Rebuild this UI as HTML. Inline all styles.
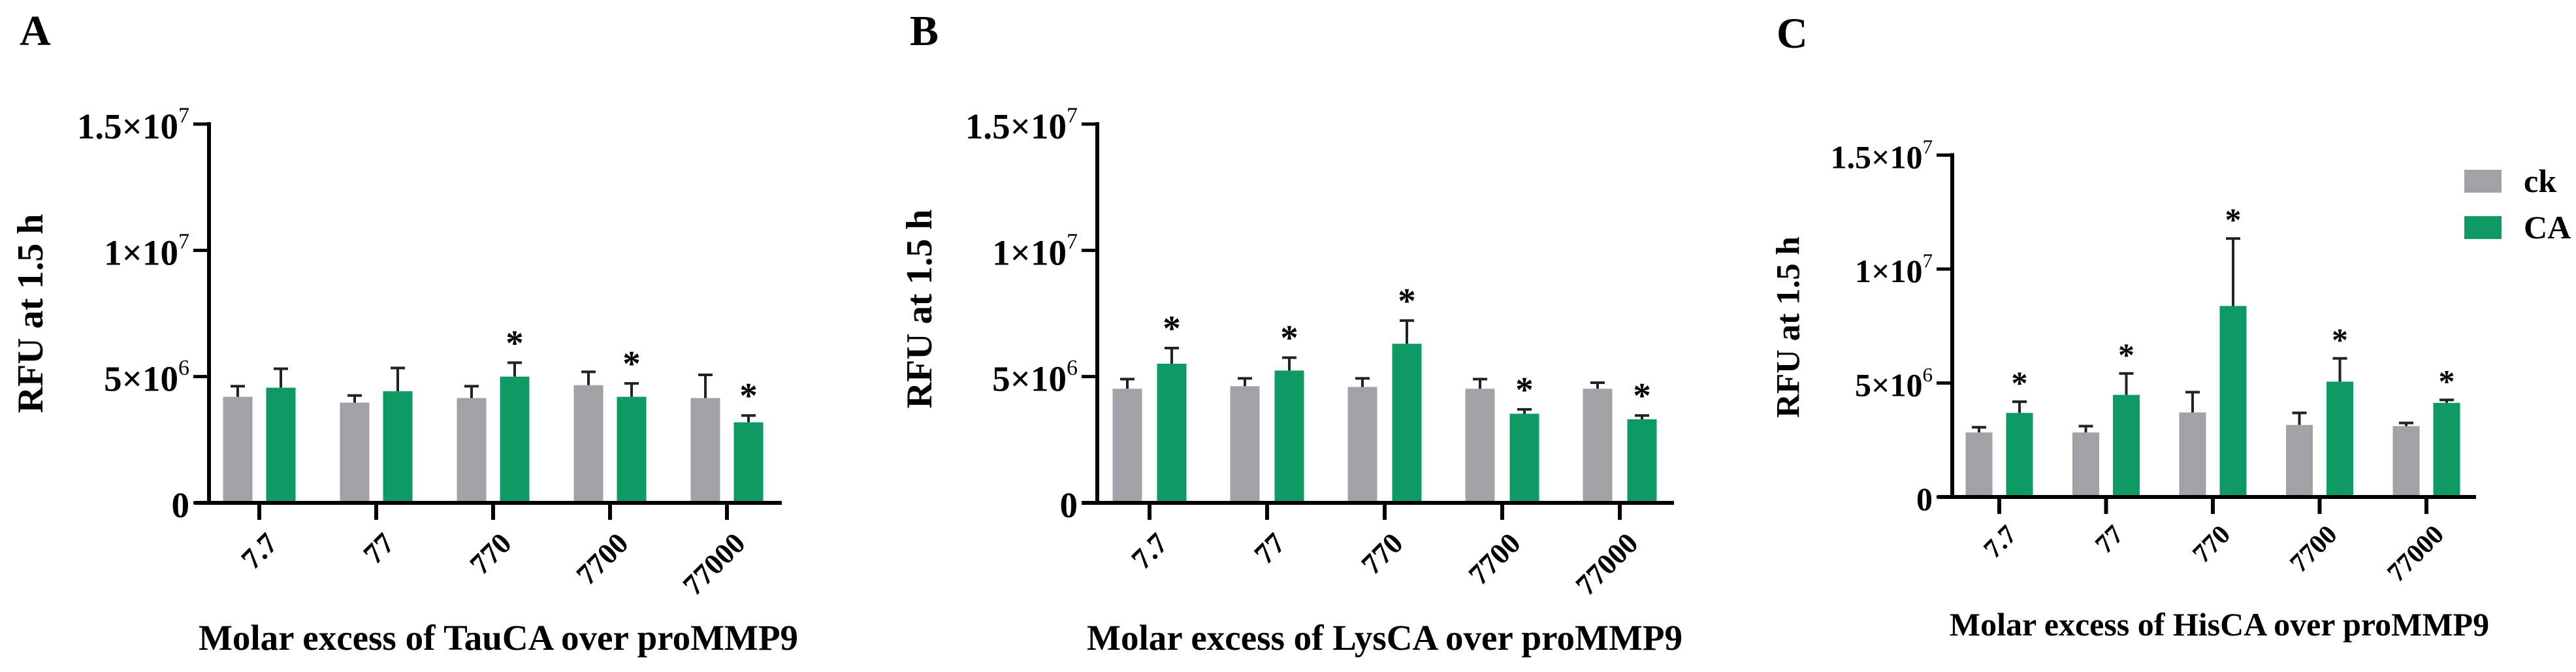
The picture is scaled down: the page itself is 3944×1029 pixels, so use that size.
<!DOCTYPE html>
<html><head><meta charset="utf-8"><style>
html,body{margin:0;padding:0;background:#fff;}
svg{display:block;font-family:"Liberation Serif",serif;}
svg text{font-family:"Liberation Serif",serif;}
</style></head><body>
<svg id="chart" width="3944" height="1029" viewBox="0 0 3944 1029" xmlns="http://www.w3.org/2000/svg" font-family="Liberation Serif, serif">
<rect width="3944" height="1029" fill="#fff"/>
<g id="layer"></g>
</svg>
<script>
const categories = ["7.7", "77", "770", "7700", "77000"];
const yTickValues = [0, 5e6, 1e7, 1.5e7];
const yTickMant = ["0", "5", "1", "1.5"];
const yTickExp = ["", "6", "7", "7"];
const seriesNames = ["ck", "CA"];
// Panel A (TauCA)
const aCk = [4.2e6, 3.97e6, 4.15e6, 4.66e6, 4.15e6];
const aCkErr = [0.42e6, 0.28e6, 0.47e6, 0.53e6, 0.92e6];
const aCa = [4.56e6, 4.42e6, 5.0e6, 4.2e6, 3.19e6];
const aCaErr = [0.75e6, 0.92e6, 0.55e6, 0.53e6, 0.27e6];
const aStar = [false, false, true, true, true];
// Panel B (LysCA)
const bCk = [4.52e6, 4.62e6, 4.59e6, 4.52e6, 4.52e6];
const bCkErr = [0.38e6, 0.31e6, 0.34e6, 0.38e6, 0.24e6];
const bCa = [5.51e6, 5.24e6, 6.3e6, 3.53e6, 3.31e6];
const bCaErr = [0.62e6, 0.51e6, 0.92e6, 0.17e6, 0.15e6];
const bStar = [true, true, true, true, true];
// Panel C (HisCA)
const cCk = [2.83e6, 2.83e6, 3.71e6, 3.16e6, 3.11e6];
const cCkErr = [0.23e6, 0.28e6, 0.89e6, 0.53e6, 0.14e6];
const cCa = [3.69e6, 4.48e6, 8.38e6, 5.06e6, 4.13e6];
const cCaErr = [0.49e6, 0.94e6, 2.96e6, 1.02e6, 0.13e6];
const cStar = [true, true, true, true, true];

const NS = "http://www.w3.org/2000/svg";
const layer = document.getElementById("layer");
const FF = "Liberation Serif, serif";
function mk(tag, attrs, parent) {
  const e = document.createElementNS(NS, tag);
  for (const k in attrs) e.setAttribute(k, attrs[k]);
  if (tag === "text") e.setAttribute("font-family", FF);
  (parent || layer).appendChild(e);
  return e;
}
const GREY = "#a2a1a6", GREEN = "#0e9a62";

const panels = [
  {id:"a", letter:"A", lx:30, ly:69, ax:320, y0:770, yTop:190, x0:298, x1:1197, t0:397, dt:179, bw:45, off:33,
   fs:55, sfs:34, title:"Molar excess of TauCA over proMMP9", tx:763, ty:995, ytx:52, yty:480, yfs:56, ck:aCk, ckE:aCkErr, ca:aCa, caE:aCaErr, st:aStar, lab:812},
  {id:"b", letter:"B", lx:1393, ly:69, ax:1680, y0:770, yTop:190, x0:1656, x1:2563, t0:1760, dt:180, bw:45, off:34,
   fs:55, sfs:34, title:"Molar excess of LysCA over proMMP9", tx:2120, ty:995, ytx:1413, yty:473, yfs:56, ck:bCk, ckE:bCkErr, ca:bCa, caE:bCaErr, st:bStar, lab:812},
  {id:"c", letter:"C", lx:2720, ly:73, ax:2989, y0:761, yTop:237.5, x0:2967, x1:3791, t0:3061, dt:163.5, bw:41, off:31,
   fs:50, sfs:31, title:"Molar excess of HisCA over proMMP9", tx:3398, ty:973, ytx:2743, yty:501, yfs:51, ck:cCk, ckE:cCkErr, ca:cCa, caE:cCaErr, st:cStar, lab:800}
];

panels.forEach(p => {
  const g = mk("g", {});
  
  
  const yS = v => p.y0 - (v / 1.5e7) * (p.y0 - p.yTop);
  const xS = i => p.t0 + i * p.dt;

  const L = mk("text", {x:p.lx, y:p.ly, "font-size":66, "font-weight":"bold", fill:"#000"}, g);
  L.textContent = p.letter;
  
  

  for (let i = 0; i < categories.length; i++) {
    [[p.ck, p.ckE, GREY, -1, "ck"], [p.ca, p.caE, GREEN, 1, "ca"]].forEach(s => {
      const v = s[0][i], e = s[1][i], cx = xS(i) + s[3] * p.off;
      const top = yS(v), et = yS(v + e);
      const eb = mk("path", {d:`M${cx} ${top} V${et} M${cx-11} ${et} H${cx+11}`, stroke:"#222", "stroke-width":4, fill:"none"}, g);
      
      
      const r = mk("rect", {x:cx - p.bw/2, y:top, width:p.bw, height:p.y0 - top, fill:s[2]}, g);
      
      
      if (s[4] === "ca" && p.st[i]) {
        const t = mk("text", {x:cx, y:et - 12, "font-size":p.fs, "font-weight":"bold", "text-anchor":"middle"}, g);
        t.textContent = "*";
        
        
      }
    });
  }

  const ya = mk("line", {x1:p.ax, y1:p.yTop - 3, x2:p.ax, y2:p.y0 + 3, stroke:"#000", "stroke-width":6}, g);
  
  
  const xa = mk("line", {x1:p.x0, y1:p.y0, x2:p.x1, y2:p.y0, stroke:"#000", "stroke-width":6}, g);
  
  

  yTickValues.forEach((v, k) => {
    const y = yS(v);
    mk("line", {x1:p.ax - 24, y1:y, x2:p.ax, y2:y, stroke:"#000", "stroke-width":5}, g);
    const t = mk("text", {x:p.ax - 30, y:y + p.fs * 0.4, "font-size":p.fs, "font-weight":"bold", "text-anchor":"end"}, g);
    
    
    if (yTickExp[k]) {
      const a = mk("tspan", {}, t); a.textContent = yTickMant[k] + "×10";
      const b = mk("tspan", {dy:-p.fs * 0.45, "font-size":p.sfs, "font-weight":"normal"}, t); b.textContent = yTickExp[k];
    } else t.textContent = yTickMant[k];
  });

  categories.forEach((c, i) => {
    const x = xS(i);
    mk("line", {x1:x, y1:p.y0, x2:x, y2:p.y0 + 26, stroke:"#000", "stroke-width":6}, g);
    const t = mk("text", {x:x + 8, y:p.lab, "font-size":p.fs * 0.82, "font-weight":"bold", "text-anchor":"end",
      transform:`rotate(-45 ${x + 8} ${p.lab})`, "dominant-baseline":"hanging"}, g);
    t.textContent = c;
    
    
  });

  const xt = mk("text", {x:p.tx, y:p.ty, "font-size":p.fs, "font-weight":"bold", "text-anchor":"middle"}, g);
  xt.textContent = p.title;
  
  
  const yt = mk("text", {x:p.ytx, y:p.yty, "font-size":p.yfs, "font-weight":"bold", "text-anchor":"middle",
    "dominant-baseline":"middle", transform:`rotate(-90 ${p.ytx} ${p.yty})`}, g);
  yt.textContent = "RFU at 1.5 h";
  
  
});

const lg = mk("g", {});


[[GREY, 260, 294], [GREEN, 331, 365]].forEach((d, k) => {
  const r = mk("rect", {x:3773, y:d[1], width:57, height:35, fill:d[0]}, lg);
  
  
  const t = mk("text", {x:3864, y:d[2], "font-size":50, "font-weight":"bold"}, lg);
  t.textContent = seriesNames[k];
  
  
});
</script>
</body></html>
